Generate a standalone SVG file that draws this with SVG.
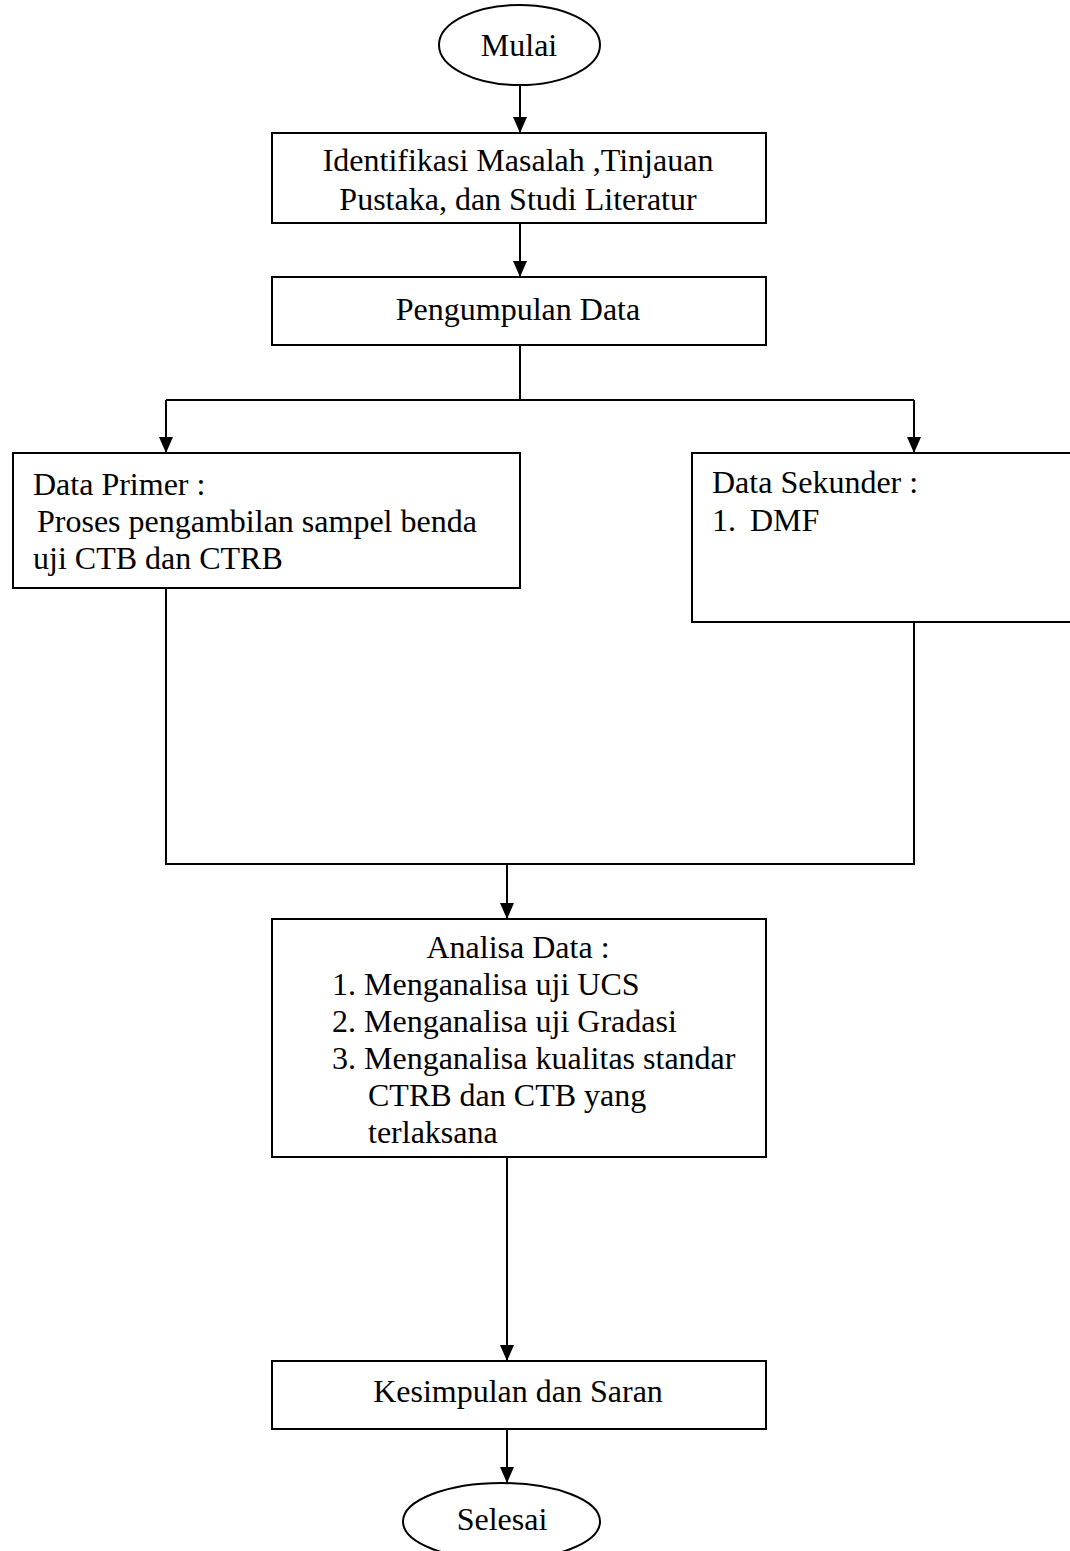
<svg xmlns="http://www.w3.org/2000/svg" width="1070" height="1551" viewBox="0 0 1070 1551">
<style>
.box{fill:#fff;stroke:#000;stroke-width:2}
.t{font-family:"Liberation Serif","Times New Roman",serif;font-size:32px;fill:#000}
.c{text-anchor:middle}
.ln{fill:none;stroke:#000;stroke-width:2}
</style>
<defs>
<marker id="ah" markerUnits="userSpaceOnUse" markerWidth="16" markerHeight="14" viewBox="0 0 16 14" refX="16" refY="7" orient="auto">
<path d="M0,0 L16,7 L0,14 z" fill="#000"/>
</marker>
</defs>
<rect width="1070" height="1551" fill="#fff"/>
<g id="connectors">
<path class="ln" d="M520,85 V133" marker-end="url(#ah)"/>
<path class="ln" d="M520,223 V277" marker-end="url(#ah)"/>
<path class="ln" d="M520,345 V400"/>
<path class="ln" d="M166,400 H914"/>
<path class="ln" d="M166,400 V453" marker-end="url(#ah)"/>
<path class="ln" d="M914,400 V453" marker-end="url(#ah)"/>
<path class="ln" d="M166,588 V864 H914 V622"/>
<path class="ln" d="M507,864 V919" marker-end="url(#ah)"/>
<path class="ln" d="M507,1157 V1361" marker-end="url(#ah)"/>
<path class="ln" d="M507,1429 V1483" marker-end="url(#ah)"/>
</g>
<g id="mulai">
<ellipse class="box" cx="519.5" cy="45" rx="80.5" ry="40"/>
<text class="t c" x="519" y="56">Mulai</text>
</g>
<g id="identifikasi">
<rect class="box" x="272" y="133" width="494" height="90"/>
<text class="t c" x="518" y="171">Identifikasi Masalah ,Tinjauan</text>
<text class="t c" x="518" y="210">Pustaka, dan Studi Literatur</text>
</g>
<g id="pengumpulan">
<rect class="box" x="272" y="277" width="494" height="68"/>
<text class="t c" x="518" y="320">Pengumpulan Data</text>
</g>
<g id="primer">
<rect class="box" x="13" y="453" width="507" height="135"/>
<text class="t" x="33" y="495">Data Primer :</text>
<text class="t" x="37" y="532">Proses pengambilan sampel benda</text>
<text class="t" x="33" y="569">uji CTB dan CTRB</text>
</g>
<g id="sekunder">
<rect class="box" x="692" y="453" width="400" height="169"/>
<text class="t" x="712" y="493">Data Sekunder :</text>
<text class="t" x="712" y="531">1.</text>
<text class="t" x="750" y="531">DMF</text>
</g>
<g id="analisa">
<rect class="box" x="272" y="919" width="494" height="238"/>
<text class="t c" x="518" y="958">Analisa Data :</text>
<text class="t" x="332" y="995">1. Menganalisa uji UCS</text>
<text class="t" x="332" y="1032">2. Menganalisa uji Gradasi</text>
<text class="t" x="332" y="1069">3. Menganalisa kualitas standar</text>
<text class="t" x="368" y="1106">CTRB dan CTB yang</text>
<text class="t" x="368" y="1143">terlaksana</text>
</g>
<g id="kesimpulan">
<rect class="box" x="272" y="1361" width="494" height="68"/>
<text class="t c" x="518" y="1402">Kesimpulan dan Saran</text>
</g>
<g id="selesai">
<ellipse class="box" cx="501.5" cy="1521.5" rx="98.5" ry="38.5"/>
<text class="t c" x="502" y="1530">Selesai</text>
</g>
</svg>
